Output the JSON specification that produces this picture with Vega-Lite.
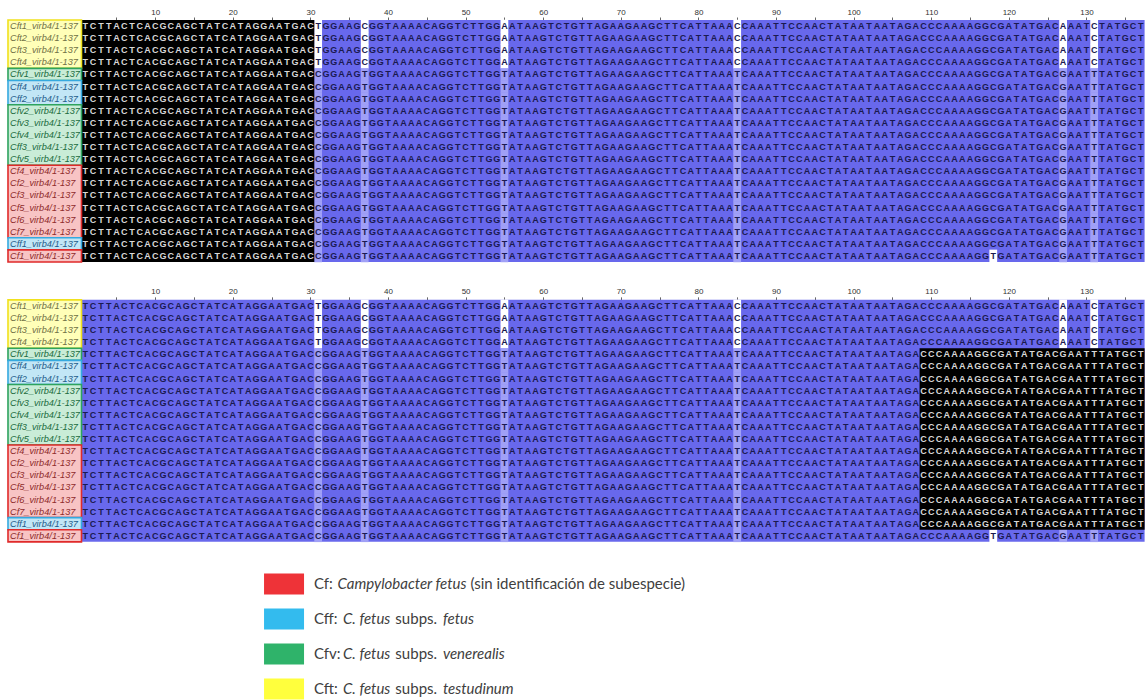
{
  "$schema": "https://vega.github.io/schema/vega-lite/v6.json",
  "padding": 0,
  "spacing": 16.85,
  "resolve": {"scale": {"color": "independent"}},
  "config": {"view": {"stroke": null}},
  "datasets": {
    "shade": [
      {"p": 1, "t": "blue", "c0": 1, "c1": 137, "r0": 1, "r1": 20},
      {"p": 1, "t": "black", "c0": 1, "c1": 30, "r0": 1, "r1": 20},
      {"p": 2, "t": "blue", "c0": 1, "c1": 137, "r0": 1, "r1": 20},
      {"p": 2, "t": "black", "c0": 109, "c1": 137, "r0": 5, "r1": 19}
    ],
    "blocks": [
      {"g": "Cft", "a": 1, "b": 4},
      {"g": "Cfv", "a": 5, "b": 5},
      {"g": "Cff", "a": 6, "b": 7},
      {"g": "Cfv", "a": 8, "b": 12},
      {"g": "Cf", "a": 13, "b": 18},
      {"g": "Cff", "a": 19, "b": 19},
      {"g": "Cf", "a": 20, "b": 20}
    ],
    "rows": [
      {"r": 1, "id": "Cft1_virb4/1-137", "g": "Cft", "w": [31, 37, 55, 85, 127, 131], "l": []},
      {"r": 2, "id": "Cft2_virb4/1-137", "g": "Cft", "w": [31, 37, 55, 85, 127, 131], "l": []},
      {"r": 3, "id": "Cft3_virb4/1-137", "g": "Cft", "w": [31, 37, 55, 85, 127, 131], "l": []},
      {"r": 4, "id": "Cft4_virb4/1-137", "g": "Cft", "w": [31, 37, 55, 85, 127, 131], "l": []},
      {"r": 5, "id": "Cfv1_virb4/1-137", "g": "Cfv", "w": [], "l": [31, 37, 55, 85, 127, 131]},
      {"r": 6, "id": "Cff4_virb4/1-137", "g": "Cff", "w": [], "l": [31, 37, 55, 85, 127, 131]},
      {"r": 7, "id": "Cff2_virb4/1-137", "g": "Cff", "w": [], "l": [31, 37, 55, 85, 127, 131]},
      {"r": 8, "id": "Cfv2_virb4/1-137", "g": "Cfv", "w": [], "l": [31, 37, 55, 85, 127, 131]},
      {"r": 9, "id": "Cfv3_virb4/1-137", "g": "Cfv", "w": [], "l": [31, 37, 55, 85, 127, 131]},
      {"r": 10, "id": "Cfv4_virb4/1-137", "g": "Cfv", "w": [], "l": [31, 37, 55, 85, 127, 131]},
      {"r": 11, "id": "Cff3_virb4/1-137", "g": "Cfv", "w": [], "l": [31, 37, 55, 85, 127, 131]},
      {"r": 12, "id": "Cfv5_virb4/1-137", "g": "Cfv", "w": [], "l": [31, 37, 55, 85, 127, 131]},
      {"r": 13, "id": "Cf4_virb4/1-137", "g": "Cf", "w": [], "l": [31, 37, 55, 85, 127, 131]},
      {"r": 14, "id": "Cf2_virb4/1-137", "g": "Cf", "w": [], "l": [31, 37, 55, 85, 127, 131]},
      {"r": 15, "id": "Cf3_virb4/1-137", "g": "Cf", "w": [], "l": [31, 37, 55, 85, 127, 131]},
      {"r": 16, "id": "Cf5_virb4/1-137", "g": "Cf", "w": [], "l": [31, 37, 55, 85, 127, 131]},
      {"r": 17, "id": "Cf6_virb4/1-137", "g": "Cf", "w": [], "l": [31, 37, 55, 85, 127, 131]},
      {"r": 18, "id": "Cf7_virb4/1-137", "g": "Cf", "w": [], "l": [31, 37, 55, 85, 127, 131]},
      {"r": 19, "id": "Cff1_virb4/1-137", "g": "Cff", "w": [], "l": [31, 37, 55, 85, 127, 131]},
      {"r": 20, "id": "Cf1_virb4/1-137", "g": "Cf", "w": [118], "l": [31, 37, 55, 85, 127, 131]}
    ],
    "variants": [
      {"v": "a", "rows": [1, 2, 3, 4]},
      {"v": "b", "rows": [5, 6, 7, 8, 9, 10, 11, 12, 13, 14, 15, 16, 17, 18, 19]},
      {"v": "f", "rows": [20]}
    ],
    "cols": [
      {"c": 1, "a": "T", "b": "T", "f": "T"}, {"c": 2, "a": "C", "b": "C", "f": "C"}, {"c": 3, "a": "T", "b": "T", "f": "T"}, {"c": 4, "a": "T", "b": "T", "f": "T"},
      {"c": 5, "a": "A", "b": "A", "f": "A"}, {"c": 6, "a": "C", "b": "C", "f": "C"}, {"c": 7, "a": "T", "b": "T", "f": "T"}, {"c": 8, "a": "C", "b": "C", "f": "C"},
      {"c": 9, "a": "A", "b": "A", "f": "A"}, {"c": 10, "a": "C", "b": "C", "f": "C"}, {"c": 11, "a": "G", "b": "G", "f": "G"}, {"c": 12, "a": "C", "b": "C", "f": "C"},
      {"c": 13, "a": "A", "b": "A", "f": "A"}, {"c": 14, "a": "G", "b": "G", "f": "G"}, {"c": 15, "a": "C", "b": "C", "f": "C"}, {"c": 16, "a": "T", "b": "T", "f": "T"},
      {"c": 17, "a": "A", "b": "A", "f": "A"}, {"c": 18, "a": "T", "b": "T", "f": "T"}, {"c": 19, "a": "C", "b": "C", "f": "C"}, {"c": 20, "a": "A", "b": "A", "f": "A"},
      {"c": 21, "a": "T", "b": "T", "f": "T"}, {"c": 22, "a": "A", "b": "A", "f": "A"}, {"c": 23, "a": "G", "b": "G", "f": "G"}, {"c": 24, "a": "G", "b": "G", "f": "G"},
      {"c": 25, "a": "A", "b": "A", "f": "A"}, {"c": 26, "a": "A", "b": "A", "f": "A"}, {"c": 27, "a": "T", "b": "T", "f": "T"}, {"c": 28, "a": "G", "b": "G", "f": "G"},
      {"c": 29, "a": "A", "b": "A", "f": "A"}, {"c": 30, "a": "C", "b": "C", "f": "C"}, {"c": 31, "a": "T", "b": "C", "f": "C"}, {"c": 32, "a": "G", "b": "G", "f": "G"},
      {"c": 33, "a": "G", "b": "G", "f": "G"}, {"c": 34, "a": "A", "b": "A", "f": "A"}, {"c": 35, "a": "A", "b": "A", "f": "A"}, {"c": 36, "a": "G", "b": "G", "f": "G"},
      {"c": 37, "a": "C", "b": "T", "f": "T"}, {"c": 38, "a": "G", "b": "G", "f": "G"}, {"c": 39, "a": "G", "b": "G", "f": "G"}, {"c": 40, "a": "T", "b": "T", "f": "T"},
      {"c": 41, "a": "A", "b": "A", "f": "A"}, {"c": 42, "a": "A", "b": "A", "f": "A"}, {"c": 43, "a": "A", "b": "A", "f": "A"}, {"c": 44, "a": "A", "b": "A", "f": "A"},
      {"c": 45, "a": "C", "b": "C", "f": "C"}, {"c": 46, "a": "A", "b": "A", "f": "A"}, {"c": 47, "a": "G", "b": "G", "f": "G"}, {"c": 48, "a": "G", "b": "G", "f": "G"},
      {"c": 49, "a": "T", "b": "T", "f": "T"}, {"c": 50, "a": "C", "b": "C", "f": "C"}, {"c": 51, "a": "T", "b": "T", "f": "T"}, {"c": 52, "a": "T", "b": "T", "f": "T"},
      {"c": 53, "a": "G", "b": "G", "f": "G"}, {"c": 54, "a": "G", "b": "G", "f": "G"}, {"c": 55, "a": "A", "b": "T", "f": "T"}, {"c": 56, "a": "A", "b": "A", "f": "A"},
      {"c": 57, "a": "T", "b": "T", "f": "T"}, {"c": 58, "a": "A", "b": "A", "f": "A"}, {"c": 59, "a": "A", "b": "A", "f": "A"}, {"c": 60, "a": "G", "b": "G", "f": "G"},
      {"c": 61, "a": "T", "b": "T", "f": "T"}, {"c": 62, "a": "C", "b": "C", "f": "C"}, {"c": 63, "a": "T", "b": "T", "f": "T"}, {"c": 64, "a": "G", "b": "G", "f": "G"},
      {"c": 65, "a": "T", "b": "T", "f": "T"}, {"c": 66, "a": "T", "b": "T", "f": "T"}, {"c": 67, "a": "A", "b": "A", "f": "A"}, {"c": 68, "a": "G", "b": "G", "f": "G"},
      {"c": 69, "a": "A", "b": "A", "f": "A"}, {"c": 70, "a": "A", "b": "A", "f": "A"}, {"c": 71, "a": "G", "b": "G", "f": "G"}, {"c": 72, "a": "A", "b": "A", "f": "A"},
      {"c": 73, "a": "A", "b": "A", "f": "A"}, {"c": 74, "a": "G", "b": "G", "f": "G"}, {"c": 75, "a": "C", "b": "C", "f": "C"}, {"c": 76, "a": "T", "b": "T", "f": "T"},
      {"c": 77, "a": "T", "b": "T", "f": "T"}, {"c": 78, "a": "C", "b": "C", "f": "C"}, {"c": 79, "a": "A", "b": "A", "f": "A"}, {"c": 80, "a": "T", "b": "T", "f": "T"},
      {"c": 81, "a": "T", "b": "T", "f": "T"}, {"c": 82, "a": "A", "b": "A", "f": "A"}, {"c": 83, "a": "A", "b": "A", "f": "A"}, {"c": 84, "a": "A", "b": "A", "f": "A"},
      {"c": 85, "a": "C", "b": "T", "f": "T"}, {"c": 86, "a": "C", "b": "C", "f": "C"}, {"c": 87, "a": "A", "b": "A", "f": "A"}, {"c": 88, "a": "A", "b": "A", "f": "A"},
      {"c": 89, "a": "A", "b": "A", "f": "A"}, {"c": 90, "a": "T", "b": "T", "f": "T"}, {"c": 91, "a": "T", "b": "T", "f": "T"}, {"c": 92, "a": "C", "b": "C", "f": "C"},
      {"c": 93, "a": "C", "b": "C", "f": "C"}, {"c": 94, "a": "A", "b": "A", "f": "A"}, {"c": 95, "a": "A", "b": "A", "f": "A"}, {"c": 96, "a": "C", "b": "C", "f": "C"},
      {"c": 97, "a": "T", "b": "T", "f": "T"}, {"c": 98, "a": "A", "b": "A", "f": "A"}, {"c": 99, "a": "T", "b": "T", "f": "T"}, {"c": 100, "a": "A", "b": "A", "f": "A"},
      {"c": 101, "a": "A", "b": "A", "f": "A"}, {"c": 102, "a": "T", "b": "T", "f": "T"}, {"c": 103, "a": "A", "b": "A", "f": "A"}, {"c": 104, "a": "A", "b": "A", "f": "A"},
      {"c": 105, "a": "T", "b": "T", "f": "T"}, {"c": 106, "a": "A", "b": "A", "f": "A"}, {"c": 107, "a": "G", "b": "G", "f": "G"}, {"c": 108, "a": "A", "b": "A", "f": "A"},
      {"c": 109, "a": "C", "b": "C", "f": "C"}, {"c": 110, "a": "C", "b": "C", "f": "C"}, {"c": 111, "a": "C", "b": "C", "f": "C"}, {"c": 112, "a": "A", "b": "A", "f": "A"},
      {"c": 113, "a": "A", "b": "A", "f": "A"}, {"c": 114, "a": "A", "b": "A", "f": "A"}, {"c": 115, "a": "A", "b": "A", "f": "A"}, {"c": 116, "a": "G", "b": "G", "f": "G"},
      {"c": 117, "a": "G", "b": "G", "f": "G"}, {"c": 118, "a": "C", "b": "C", "f": "T"}, {"c": 119, "a": "G", "b": "G", "f": "G"}, {"c": 120, "a": "A", "b": "A", "f": "A"},
      {"c": 121, "a": "T", "b": "T", "f": "T"}, {"c": 122, "a": "A", "b": "A", "f": "A"}, {"c": 123, "a": "T", "b": "T", "f": "T"}, {"c": 124, "a": "G", "b": "G", "f": "G"},
      {"c": 125, "a": "A", "b": "A", "f": "A"}, {"c": 126, "a": "C", "b": "C", "f": "C"}, {"c": 127, "a": "A", "b": "G", "f": "G"}, {"c": 128, "a": "A", "b": "A", "f": "A"},
      {"c": 129, "a": "A", "b": "A", "f": "A"}, {"c": 130, "a": "T", "b": "T", "f": "T"}, {"c": 131, "a": "C", "b": "T", "f": "T"}, {"c": 132, "a": "T", "b": "T", "f": "T"},
      {"c": 133, "a": "A", "b": "A", "f": "A"}, {"c": 134, "a": "T", "b": "T", "f": "T"}, {"c": 135, "a": "G", "b": "G", "f": "G"}, {"c": 136, "a": "C", "b": "C", "f": "C"},
      {"c": 137, "a": "T", "b": "T", "f": "T"}
    ],
    "legend": [
      {"k": 1, "g": "Cf", "a": "Cf:", "b": "Campylobacter fetus", "c": "(sin identificación de subespecie)", "d": ""},
      {"k": 2, "g": "Cff", "a": "Cff:", "b": "C. fetus", "c": "subps.", "d": "fetus"},
      {"k": 3, "g": "Cfv", "a": "Cfv:", "b": "C. fetus", "c": "subps.", "d": "venerealis"},
      {"k": 4, "g": "Cft", "a": "Cft:", "b": "C. fetus", "c": "subps.", "d": "testudinum"}
    ]
  },
  "vconcat": [
    {
      "width": 1146,
      "height": 242,
      "layer": [
        {
          "data": {"name": "shade"},
          "transform": [{"filter": "datum.p == 1 && datum.t == 'blue'"}],
          "mark": {"type": "rect", "color": "#6868ec", "xOffset": -3.88, "x2Offset": 3.88, "yOffset": -6.05, "y2Offset": 6.05},
          "encoding": {
            "x": {"field": "c0", "type": "quantitative", "title": null, "scale": {"domain": [-10, 137.68], "nice": false, "zero": false},
              "axis": {"orient": "top", "title": null, "values": [5, 10, 15, 20, 25, 30, 35, 40, 45, 50, 55, 60, 65, 70, 75, 80, 85, 90, 95, 100, 105, 110, 115, 120, 125, 130, 135],
                "labelExpr": "datum.value % 10 === 0 ? datum.label : ''", "domain": false, "grid": false, "tickSize": 3, "tickColor": "#666666", "tickWidth": 1,
                "labelFont": "Liberation Sans", "labelFontSize": 8, "labelColor": "#333333", "labelPadding": 1, "labelFlush": false, "labelOverlap": false,
                "minExtent": 19.45, "maxExtent": 19.45, "offset": 0}},
            "x2": {"field": "c1"},
            "y": {"field": "r0", "type": "quantitative", "scale": {"domain": [0.5, 20.5], "reverse": true, "nice": false, "zero": false}, "axis": null},
            "y2": {"field": "r1"}
          }
        },
        {
          "data": {"name": "rows"},
          "transform": [{"flatten": ["w"], "as": ["c"]}],
          "mark": {"type": "rect", "color": "#ffffff", "xOffset": -3.88, "x2Offset": 3.88, "yOffset": -6.3, "y2Offset": 6.3},
          "encoding": {
            "x": {"field": "c", "type": "quantitative", "title": null, "scale": {"domain": [-10, 137.68], "nice": false, "zero": false}},
            "x2": {"field": "c"},
            "y": {"field": "r", "type": "quantitative", "scale": {"domain": [0.5, 20.5], "reverse": true, "nice": false, "zero": false}, "axis": null},
            "y2": {"field": "r"}
          }
        },
        {
          "data": {"name": "rows"},
          "transform": [{"flatten": ["l"], "as": ["c"]}],
          "mark": {"type": "rect", "color": "#a0a0f6", "xOffset": -3.88, "x2Offset": 3.88, "yOffset": -6.3, "y2Offset": 6.3},
          "encoding": {
            "x": {"field": "c", "type": "quantitative", "title": null, "scale": {"domain": [-10, 137.68], "nice": false, "zero": false}},
            "x2": {"field": "c"},
            "y": {"field": "r", "type": "quantitative", "scale": {"domain": [0.5, 20.5], "reverse": true, "nice": false, "zero": false}, "axis": null},
            "y2": {"field": "r"}
          }
        },
        {
          "data": {"name": "shade"},
          "transform": [{"filter": "datum.p == 1 && datum.t == 'black'"}],
          "mark": {"type": "rect", "color": "#000000", "xOffset": -3.88, "x2Offset": 3.88, "yOffset": -6.05, "y2Offset": 6.05},
          "encoding": {
            "x": {"field": "c0", "type": "quantitative", "title": null, "scale": {"domain": [-10, 137.68], "nice": false, "zero": false}},
            "x2": {"field": "c1"},
            "y": {"field": "r0", "type": "quantitative", "scale": {"domain": [0.5, 20.5], "reverse": true, "nice": false, "zero": false}, "axis": null},
            "y2": {"field": "r1"}
          }
        },
        {
          "data": {"name": "cols"},
          "transform": [
            {"fold": ["a", "b", "f"], "as": ["v", "base"]},
            {"lookup": "v", "from": {"data": {"name": "variants"}, "key": "v", "fields": ["rows"]}},
            {"flatten": ["rows"], "as": ["r"]}
          ],
          "mark": {"type": "text", "align": "center", "baseline": "middle", "font": "Liberation Sans", "fontWeight": "bold", "fontSize": 9},
          "encoding": {
            "x": {"field": "c", "type": "quantitative", "title": null, "scale": {"domain": [-10, 137.68], "nice": false, "zero": false}},
            "y": {"field": "r", "type": "quantitative", "scale": {"domain": [0.5, 20.5], "reverse": true, "nice": false, "zero": false}, "axis": null},
            "text": {"field": "base"},
            "color": {"condition": {"test": "datum.c <= 30", "value": "#d8d8d8"}, "value": "#1a1a50"}
          }
        },
        {
          "data": {"name": "blocks"},
          "mark": {"type": "rect", "strokeWidth": 1.6, "yOffset": -6.05, "y2Offset": 6.05},
          "encoding": {
            "x": {"datum": -8.97, "type": "quantitative", "title": null, "scale": {"domain": [-10, 137.68], "nice": false, "zero": false}},
            "x2": {"datum": 0.5},
            "y": {"field": "a", "type": "quantitative", "scale": {"domain": [0.5, 20.5], "reverse": true, "nice": false, "zero": false}, "axis": null},
            "y2": {"field": "b"},
            "fill": {"field": "g", "type": "nominal", "scale": {"domain": ["Cf", "Cff", "Cfv", "Cft"], "range": ["#f8c4c4", "#c2e6f6", "#c9ecd7", "#ffffb8"]}, "legend": null},
            "stroke": {"field": "g", "type": "nominal", "scale": {"domain": ["Cf", "Cff", "Cfv", "Cft"], "range": ["#e02a2a", "#35a9df", "#2ea35e", "#f0e11e"]}, "legend": null}
          }
        },
        {
          "data": {"name": "rows"},
          "mark": {"type": "text", "align": "left", "baseline": "middle", "font": "Liberation Sans", "fontStyle": "italic", "fontSize": 9.2},
          "encoding": {
            "x": {"datum": -8.71, "type": "quantitative", "title": null, "scale": {"domain": [-10, 137.68], "nice": false, "zero": false}},
            "y": {"field": "r", "type": "quantitative", "scale": {"domain": [0.5, 20.5], "reverse": true, "nice": false, "zero": false}, "axis": null},
            "text": {"field": "id"},
            "color": {"field": "g", "type": "nominal", "scale": {"domain": ["Cf", "Cff", "Cfv", "Cft"], "range": ["#8e2b2b", "#1f5c8a", "#206b3d", "#707045"]}, "legend": null}
          }
        }
      ]
    },
    {
      "width": 1146,
      "height": 242,
      "layer": [
        {
          "data": {"name": "shade"},
          "transform": [{"filter": "datum.p == 2 && datum.t == 'blue'"}],
          "mark": {"type": "rect", "color": "#6868ec", "xOffset": -3.88, "x2Offset": 3.88, "yOffset": -6.05, "y2Offset": 6.05},
          "encoding": {
            "x": {"field": "c0", "type": "quantitative", "title": null, "scale": {"domain": [-10, 137.68], "nice": false, "zero": false},
              "axis": {"orient": "top", "title": null, "values": [5, 10, 15, 20, 25, 30, 35, 40, 45, 50, 55, 60, 65, 70, 75, 80, 85, 90, 95, 100, 105, 110, 115, 120, 125, 130, 135],
                "labelExpr": "datum.value % 10 === 0 ? datum.label : ''", "domain": false, "grid": false, "tickSize": 3, "tickColor": "#666666", "tickWidth": 1,
                "labelFont": "Liberation Sans", "labelFontSize": 8, "labelColor": "#333333", "labelPadding": 1, "labelFlush": false, "labelOverlap": false,
                "minExtent": 19.45, "maxExtent": 19.45, "offset": 0}},
            "x2": {"field": "c1"},
            "y": {"field": "r0", "type": "quantitative", "scale": {"domain": [0.5, 20.5], "reverse": true, "nice": false, "zero": false}, "axis": null},
            "y2": {"field": "r1"}
          }
        },
        {
          "data": {"name": "rows"},
          "transform": [{"flatten": ["w"], "as": ["c"]}],
          "mark": {"type": "rect", "color": "#ffffff", "xOffset": -3.88, "x2Offset": 3.88, "yOffset": -6.3, "y2Offset": 6.3},
          "encoding": {
            "x": {"field": "c", "type": "quantitative", "title": null, "scale": {"domain": [-10, 137.68], "nice": false, "zero": false}},
            "x2": {"field": "c"},
            "y": {"field": "r", "type": "quantitative", "scale": {"domain": [0.5, 20.5], "reverse": true, "nice": false, "zero": false}, "axis": null},
            "y2": {"field": "r"}
          }
        },
        {
          "data": {"name": "rows"},
          "transform": [{"flatten": ["l"], "as": ["c"]}],
          "mark": {"type": "rect", "color": "#a0a0f6", "xOffset": -3.88, "x2Offset": 3.88, "yOffset": -6.3, "y2Offset": 6.3},
          "encoding": {
            "x": {"field": "c", "type": "quantitative", "title": null, "scale": {"domain": [-10, 137.68], "nice": false, "zero": false}},
            "x2": {"field": "c"},
            "y": {"field": "r", "type": "quantitative", "scale": {"domain": [0.5, 20.5], "reverse": true, "nice": false, "zero": false}, "axis": null},
            "y2": {"field": "r"}
          }
        },
        {
          "data": {"name": "shade"},
          "transform": [{"filter": "datum.p == 2 && datum.t == 'black'"}],
          "mark": {"type": "rect", "color": "#000000", "xOffset": -3.88, "x2Offset": 3.88, "yOffset": -6.05, "y2Offset": 6.05},
          "encoding": {
            "x": {"field": "c0", "type": "quantitative", "title": null, "scale": {"domain": [-10, 137.68], "nice": false, "zero": false}},
            "x2": {"field": "c1"},
            "y": {"field": "r0", "type": "quantitative", "scale": {"domain": [0.5, 20.5], "reverse": true, "nice": false, "zero": false}, "axis": null},
            "y2": {"field": "r1"}
          }
        },
        {
          "data": {"name": "cols"},
          "transform": [
            {"fold": ["a", "b", "f"], "as": ["v", "base"]},
            {"lookup": "v", "from": {"data": {"name": "variants"}, "key": "v", "fields": ["rows"]}},
            {"flatten": ["rows"], "as": ["r"]}
          ],
          "mark": {"type": "text", "align": "center", "baseline": "middle", "font": "Liberation Sans", "fontWeight": "bold", "fontSize": 9},
          "encoding": {
            "x": {"field": "c", "type": "quantitative", "title": null, "scale": {"domain": [-10, 137.68], "nice": false, "zero": false}},
            "y": {"field": "r", "type": "quantitative", "scale": {"domain": [0.5, 20.5], "reverse": true, "nice": false, "zero": false}, "axis": null},
            "text": {"field": "base"},
            "color": {"condition": {"test": "datum.c >= 109 && datum.r >= 5 && datum.r <= 19", "value": "#d8d8d8"}, "value": "#1a1a50"}
          }
        },
        {
          "data": {"name": "blocks"},
          "mark": {"type": "rect", "strokeWidth": 1.6, "yOffset": -6.05, "y2Offset": 6.05},
          "encoding": {
            "x": {"datum": -8.97, "type": "quantitative", "title": null, "scale": {"domain": [-10, 137.68], "nice": false, "zero": false}},
            "x2": {"datum": 0.5},
            "y": {"field": "a", "type": "quantitative", "scale": {"domain": [0.5, 20.5], "reverse": true, "nice": false, "zero": false}, "axis": null},
            "y2": {"field": "b"},
            "fill": {"field": "g", "type": "nominal", "scale": {"domain": ["Cf", "Cff", "Cfv", "Cft"], "range": ["#f8c4c4", "#c2e6f6", "#c9ecd7", "#ffffb8"]}, "legend": null},
            "stroke": {"field": "g", "type": "nominal", "scale": {"domain": ["Cf", "Cff", "Cfv", "Cft"], "range": ["#e02a2a", "#35a9df", "#2ea35e", "#f0e11e"]}, "legend": null}
          }
        },
        {
          "data": {"name": "rows"},
          "mark": {"type": "text", "align": "left", "baseline": "middle", "font": "Liberation Sans", "fontStyle": "italic", "fontSize": 9.2},
          "encoding": {
            "x": {"datum": -8.71, "type": "quantitative", "title": null, "scale": {"domain": [-10, 137.68], "nice": false, "zero": false}},
            "y": {"field": "r", "type": "quantitative", "scale": {"domain": [0.5, 20.5], "reverse": true, "nice": false, "zero": false}, "axis": null},
            "text": {"field": "id"},
            "color": {"field": "g", "type": "nominal", "scale": {"domain": ["Cf", "Cff", "Cfv", "Cft"], "range": ["#8e2b2b", "#1f5c8a", "#206b3d", "#707045"]}, "legend": null}
          }
        }
      ]
    },
    {
      "width": 1146,
      "height": 143.4,
      "data": {"name": "legend"},
      "encoding": {
        "y": {"field": "k", "type": "quantitative", "scale": {"domain": [0.303, 4.4], "reverse": true, "nice": false, "zero": false}, "axis": null}
      },
      "layer": [
        {
          "mark": {"type": "rect", "yOffset": -10.5, "y2Offset": 10.5},
          "encoding": {
            "x": {"datum": 23.04, "type": "quantitative", "scale": {"domain": [0, 100], "nice": false, "zero": false}, "axis": null},
            "x2": {"datum": 26.53},
            "y2": {"field": "k"},
            "color": {"field": "g", "type": "nominal", "scale": {"domain": ["Cf", "Cff", "Cfv", "Cft"], "range": ["#ee3338", "#33bbee", "#2fb36a", "#ffff3d"]}, "legend": null}
          }
        },
        {
          "mark": {"type": "text", "align": "left", "baseline": "middle", "font": "Lato", "fontSize": 15, "color": "#404040"},
          "encoding": {
            "x": {"datum": 27.4, "type": "quantitative", "scale": {"domain": [0, 100], "nice": false, "zero": false}, "axis": null},
            "text": {"field": "a"}
          }
        },
        {
          "transform": [{"filter": "datum.g == 'Cf'"}],
          "mark": {"type": "text", "align": "left", "baseline": "middle", "font": "Lato", "fontSize": 15, "fontStyle": "italic", "color": "#404040"},
          "encoding": {
            "x": {"datum": 29.45, "type": "quantitative", "scale": {"domain": [0, 100], "nice": false, "zero": false}, "axis": null},
            "text": {"field": "b"}
          }
        },
        {
          "transform": [{"filter": "datum.g != 'Cf'"}],
          "mark": {"type": "text", "align": "left", "baseline": "middle", "font": "Lato", "fontSize": 15, "fontStyle": "italic", "color": "#404040"},
          "encoding": {
            "x": {"datum": 29.93, "type": "quantitative", "scale": {"domain": [0, 100], "nice": false, "zero": false}, "axis": null},
            "text": {"field": "b"}
          }
        },
        {
          "transform": [{"filter": "datum.g == 'Cf'"}],
          "mark": {"type": "text", "align": "left", "baseline": "middle", "font": "Lato", "fontSize": 15, "color": "#404040"},
          "encoding": {
            "x": {"datum": 41.05, "type": "quantitative", "scale": {"domain": [0, 100], "nice": false, "zero": false}, "axis": null},
            "text": {"field": "c"}
          }
        },
        {
          "transform": [{"filter": "datum.g != 'Cf'"}],
          "mark": {"type": "text", "align": "left", "baseline": "middle", "font": "Lato", "fontSize": 15, "color": "#404040"},
          "encoding": {
            "x": {"datum": 34.5, "type": "quantitative", "scale": {"domain": [0, 100], "nice": false, "zero": false}, "axis": null},
            "text": {"field": "c"}
          }
        },
        {
          "transform": [{"filter": "datum.g != 'Cf'"}],
          "mark": {"type": "text", "align": "left", "baseline": "middle", "font": "Lato", "fontSize": 15, "fontStyle": "italic", "color": "#404040"},
          "encoding": {
            "x": {"datum": 38.65, "type": "quantitative", "scale": {"domain": [0, 100], "nice": false, "zero": false}, "axis": null},
            "text": {"field": "d"}
          }
        }
      ]
    }
  ]
}
